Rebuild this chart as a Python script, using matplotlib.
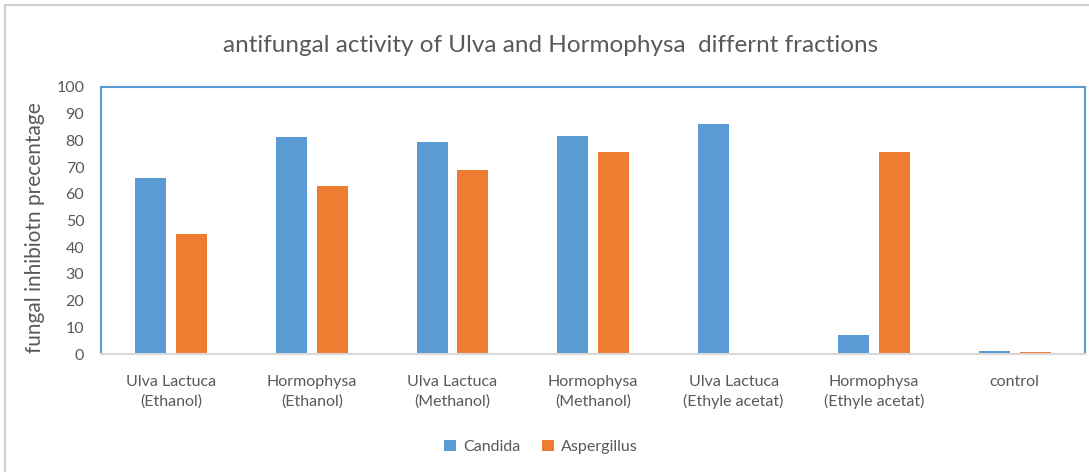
import matplotlib
matplotlib.use("Agg")
import matplotlib.pyplot as plt
import numpy as np
from matplotlib.patches import Rectangle

categories = ["Ulva Lactuca\n(Ethanol)", "Hormophysa\n(Ethanol)", "Ulva Lactuca\n(Methanol)",
              "Hormophysa\n(Methanol)", "Ulva Lactuca\n(Ethyle acetat)", "Hormophysa\n(Ethyle acetat)",
              "control"]
candida = [66, 81.3, 79.5, 81.7, 86, 7.1, 1.2]
aspergillus = [44.8, 62.8, 69, 75.7, 0, 75.7, 0.6]
yticks = [0, 10, 20, 30, 40, 50, 60, 70, 80, 90, 100]

plt.rcParams['font.family'] = ['Lato', 'DejaVu Sans']
grey = '#595959'

fig = plt.figure(figsize=(10.89, 4.72), dpi=100)
ax = fig.add_axes([101/1089, 1-354/472, (1085-101)/1089, (354-87)/472])

x = np.arange(len(categories))
w = 0.22
off = 0.145
ax.bar(x - off, candida, w, color='#5B9BD5', label='Candida', zorder=2)
ax.bar(x + off, aspergillus, w, color='#ED7D31', label='Aspergillus', zorder=2)

ax.set_xlim(-0.5, len(categories) - 0.5)
ax.set_ylim(0, 100)
ax.set_yticks(yticks)
ax.set_xticks(x)
ax.set_xticklabels(categories, fontsize=11.5, color=grey, linespacing=1.45)
ax.tick_params(axis='y', labelsize=11.5, labelcolor=grey, length=0, pad=12)
ax.tick_params(axis='x', length=0, pad=15)
for s in ['left', 'top', 'right']:
    ax.spines[s].set_color('#5B9BD5')
    ax.spines[s].set_linewidth(1.5)
ax.spines['bottom'].set_color('#D9D9D9')
ax.spines['bottom'].set_linewidth(1.5)

ax.set_ylabel('fungal inhibiotn precentage', fontsize=15, color=grey)
ax.yaxis.set_label_coords((45-101)/(1085-101), (354-228)/(354-87))
fig.text(551/1089, 1-45/472, 'antifungal activity of Ulva and Hormophysa  differnt fractions',
         ha='center', va='center', fontsize=17.5, color=grey)

leg = fig.legend(loc='center', bbox_to_anchor=(541/1089, 1-447/472), ncol=2, frameon=False,
                 fontsize=11.5, handlelength=0.7, handleheight=0.7, handletextpad=0.45, columnspacing=1.4)
for t in leg.get_texts():
    t.set_color(grey)

fig.patches.append(Rectangle((5/1089, -0.1), 1.2, 1 - 5/472 + 0.1, transform=fig.transFigure,
                             fill=False, edgecolor='#D0D0D0', linewidth=1.5))

fig.savefig('out.png', dpi=100)
